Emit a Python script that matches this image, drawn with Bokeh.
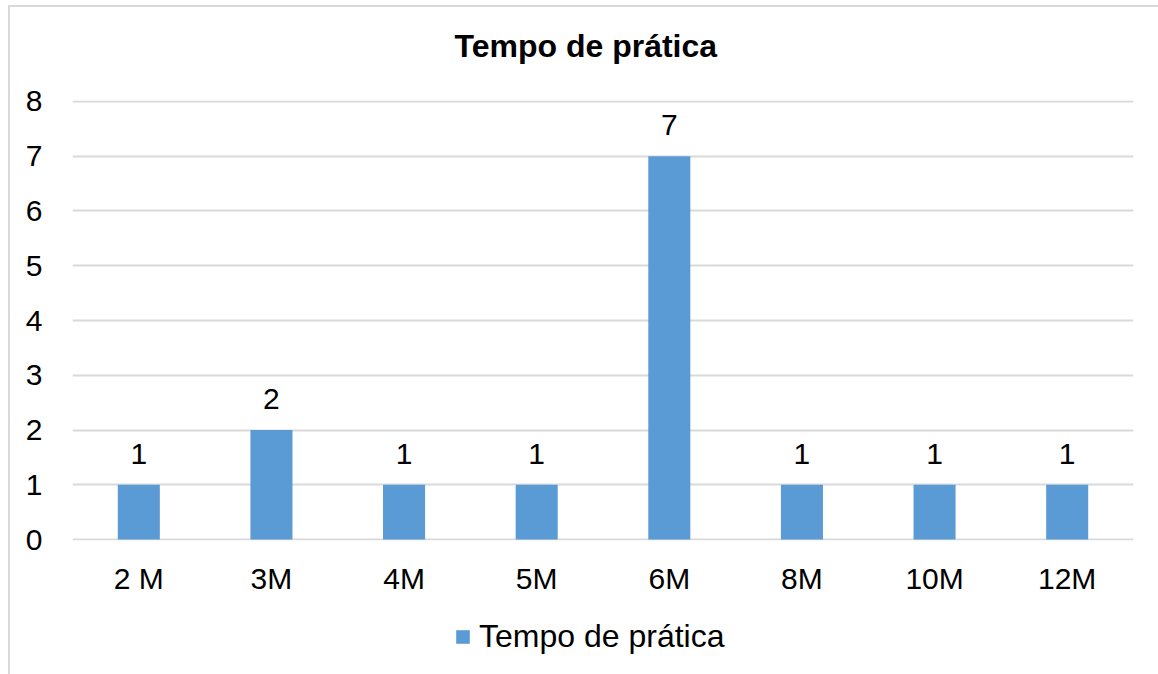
from bokeh.plotting import figure
from bokeh.layouts import column
from bokeh.models import ColumnDataSource, FactorRange, Range1d, LabelSet, Legend, LegendItem, FixedTicker
from bokeh.core.properties import value
from bokeh.embed import file_html
from bokeh.resources import INLINE

categories = ["2 M", "3M", "4M", "5M", "6M", "8M", "10M", "12M"]
values = [1, 2, 1, 1, 7, 1, 1, 1]
series_name = "Tempo de prática"
title_text = "Tempo de prática"
y_ticks = [0, 1, 2, 3, 4, 5, 6, 7, 8]

FONT = "Liberation Sans"
BAR = "#5B9BD5"
GRID = "#D9D9D9"
FS = "30px"

source = ColumnDataSource(data=dict(cat=categories, val=values, lbl=[str(v) for v in values]))

# title strip
pt = figure(width=1148, height=75, output_backend="svg", toolbar_location=None,
            x_axis_location=None, y_axis_location=None,
            min_border_left=0, min_border_right=0, min_border_top=0, min_border_bottom=0)
pt.grid.visible = False
pt.outline_line_color = None
pt.title.text = title_text
pt.title.align = "left"
pt.title.offset = 382
pt.title.text_font = FONT
pt.title.text_font_size = "32px"
pt.title.text_font_style = "bold"
pt.title.text_color = "#000000"
pt.title.standoff = 37

# main chart
p = figure(
    width=1148, height=518, title=None,
    x_range=FactorRange(factors=categories, range_padding=0),
    y_range=Range1d(-0.0182, 8.0182),
    output_backend="svg", toolbar_location=None,
    min_border_left=62, min_border_right=25, min_border_top=18, min_border_bottom=60,
)

r = p.vbar(x="cat", top="val", width=0.317, source=source, fill_color=BAR, line_color=None)

labels = LabelSet(x="cat", y="val", text="lbl", source=source, text_align="center",
                  text_baseline="bottom", y_offset=21, text_font=value(FONT),
                  text_font_size=value(FS), text_color="#000000")
p.add_layout(labels)

p.xgrid.grid_line_color = None
p.ygrid.grid_line_color = GRID
p.ygrid.grid_line_width = 2
p.ygrid.level = "underlay"
p.outline_line_color = None

p.yaxis.ticker = FixedTicker(ticks=y_ticks)
for ax in (p.xaxis[0], p.yaxis[0]):
    ax.axis_line_color = None
    ax.major_tick_line_color = None
    ax.minor_tick_line_color = None
    ax.major_tick_out = 0
    ax.major_tick_in = 0
    ax.minor_tick_out = 0
    ax.major_label_text_font = FONT
    ax.major_label_text_font_size = FS
    ax.major_label_text_color = "#000000"
p.yaxis.major_label_standoff = 30
p.xaxis.major_label_standoff = 21

# legend strip below the chart (same series, drawn outside the visible range so only the key shows)
p2 = figure(width=1148, height=74,
            x_range=FactorRange(factors=categories, range_padding=0), y_range=Range1d(20, 21),
            output_backend="svg", toolbar_location=None,
            x_axis_location=None, y_axis_location=None,
            min_border_left=0, min_border_right=0, min_border_top=0, min_border_bottom=0)
p2.grid.visible = False
p2.outline_line_color = None
r2 = p2.vbar(x="cat", top="val", width=0.317, source=source, fill_color=BAR, line_color=None)
legend = Legend(items=[LegendItem(label=series_name, renderers=[r2])],
                orientation="horizontal", location=(382, 19),
                label_text_font=FONT, label_text_font_size="32px", label_text_color="#000000",
                glyph_width=17, glyph_height=17, label_standoff=8,
                border_line_color=None, background_fill_alpha=0, padding=0, margin=0)
p2.add_layout(legend)

layout = column(pt, p, p2, margin=(5, 0, 0, 8),
                styles={"border-left": "2px solid #D9D9D9", "border-top": "2px solid #D9D9D9"})

open("out.html", "w").write(file_html(layout, INLINE))
